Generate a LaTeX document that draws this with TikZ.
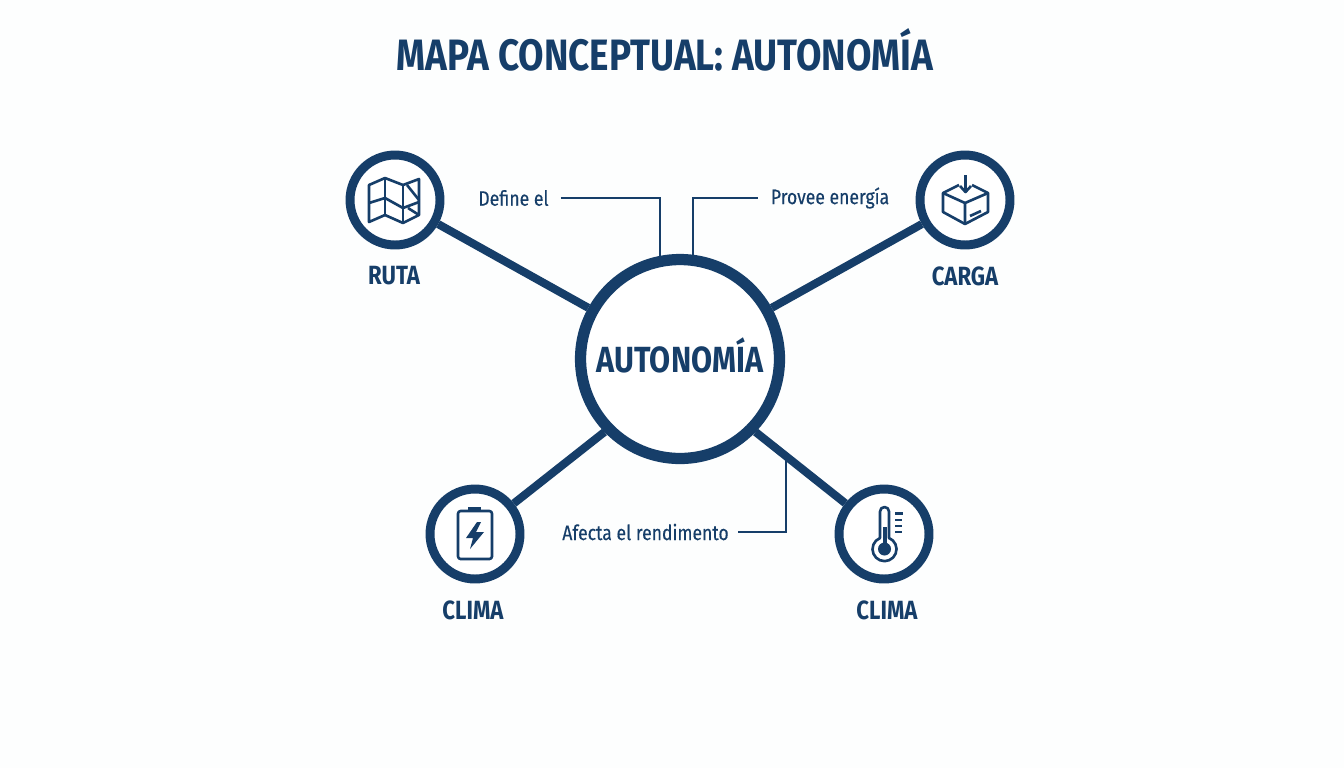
\documentclass[tikz,border=0pt]{standalone}
\usepackage{fontspec}
\setmainfont{Fira Sans}[FakeStretch=0.84]
\usetikzlibrary{calc, positioning}
\definecolor{NavyBlue}{RGB}{22, 62, 105}
\definecolor{PaperWhite}{RGB}{253, 254, 254}
\tikzset{
    hubnode/.style={circle, draw=NavyBlue, fill=white, line width=6.4pt, minimum size=3.98cm, inner sep=0pt,
        text=NavyBlue, text height=15.8pt, text depth=0pt, font=\fontsize{20.7}{24}\selectfont\bfseries},
    ringnode/.style={circle, draw=NavyBlue, fill=white, line width=5.1pt, minimum size=1.8cm, inner sep=0pt},
    spoke/.style={draw=NavyBlue, line width=4.6pt},
    leader/.style={draw=NavyBlue, line width=1.2pt},
    icon/.style={draw=NavyBlue, line width=1.5pt, line join=round},
    ringlabel/.style={text=NavyBlue, font=\fontsize{15}{17}\selectfont\bfseries, inner sep=0pt},
    notelabel/.style={text=NavyBlue, font=\fontsize{11.9}{14}\selectfont\addfontfeature{FakeBold=0.3}, inner sep=0pt}
}
\begin{document}
\begin{tikzpicture}[x=0.02cm, y=-0.02cm]
    \fill[PaperWhite] (0,0) rectangle (1344,768);
    \useasboundingbox (0,0) rectangle (1344,768);

    % Title
    \node[text=NavyBlue, text height=17.2pt, text depth=0pt, font=\fontsize{25}{30}\selectfont\bfseries, inner sep=0pt] (title) at (665,55.5) {MAPA CONCEPTUAL: AUTONOMÍA};

    % Outer rings
    \node[ringnode] (ruta) at (395,200) {};
    \node[ringnode] (carga) at (965,200) {};
    \node[ringnode] (bateria) at (475,534) {};
    \node[ringnode] (termo) at (884,534) {};

    % Hub and spokes
    \node[hubnode] (hub) at (680,359) {AUTONOMÍA};
    \draw[spoke] (hub) -- (ruta);
    \draw[spoke] (hub) -- (carga);
    \draw[spoke] (hub.224) -- (bateria);
    \draw[spoke] (hub.316) -- (termo);

    % Ring labels
    \node[ringlabel] (rutalabel) at (394,276) {RUTA};
    \node[ringlabel] (cargalabel) at (965,276) {CARGA};
    \node[ringlabel] (bateriolabel) at (473,610) {CLIMA};
    \node[ringlabel] (termolabel) at (887,610) {CLIMA};

    % Notes with their leader lines
    \node[notelabel] (define) at (513.5,198) {Define el};
    \node[notelabel] (provee) at (830,198) {Provee energía};
    \node[notelabel] (afecta) at (645.5,532) {Afecta el rendimento};
    \coordinate (defineend) at (660,256);
    \coordinate (proveeend) at (693,256);
    \coordinate (afectaend) at (786,458);
    \draw[leader] (define.east) ++(12,0) -- (660,198) -- (defineend);
    \draw[leader] (provee.west) ++(-13,0) -- (693,198) -- (proveeend);
    \draw[leader] (afecta.east) ++(9,0) -- (786,532) -- (afectaend);

    % Map icon
    \draw[icon] (369,185) -- (385,178) -- (403,185) -- (419,179) -- (419,215) -- (403,223) -- (385,215) -- (369,222) -- cycle;
    \draw[icon] (385,178) -- (385,215) (403,185) -- (403,223);
    \draw[icon] (369,203) -- (385,198) -- (403,208) -- (419,202);
    \draw[icon] (407,185) -- (419,200) (408,208) -- (419,215);

    % Box icon
    \draw[icon] (959,185) -- (943,193) -- (943,212) -- (965,224) -- (988,212) -- (988,193) -- (972,185);
    \draw[icon] (943,193) -- (965,203) -- (988,193) (965,203) -- (965,224);
    \draw[icon] (965.5,175) -- (965.5,191);
    \draw[icon] (960,186) -- (965.5,192) -- (971,186);
    \draw[icon] (970,216) -- (981,211);

    % Battery icon
    \draw[icon, rounded corners=1.5pt] (458,511) rectangle (492,559);
    \fill[NavyBlue] (468,507) rectangle (481,511);
    \fill[NavyBlue] (477,522) -- (466,538) -- (473,538) -- (470,549) -- (484,532) -- (476,532) -- (481,522) -- cycle;

    % Thermometer icon
    \draw[icon] (880,538) -- (880,511.5) arc[start angle=180, end angle=360, radius=4.5] -- (889,538)
        arc[start angle=-68, end angle=248, radius=12] -- cycle;
    \fill[NavyBlue] (883,527) rectangle (887,545);
    \fill[NavyBlue] (884.5,549) circle[radius=6.5];
    \draw[icon] (895,513.5) -- (903,513.5) (895,520) -- (902,520) (895,526) -- (902,526) (895,532) -- (902,532);
\end{tikzpicture}
\end{document}
